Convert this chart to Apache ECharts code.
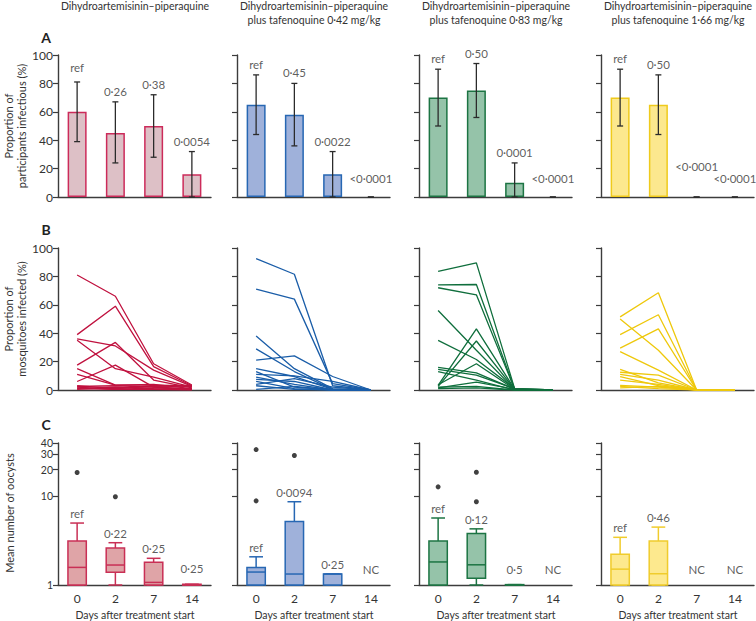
<!DOCTYPE html>
<html><head><meta charset="utf-8">
<script src="https://cdn.jsdelivr.net/npm/echarts@6/dist/echarts.min.js"></script>
<style>html,body{margin:0;padding:0;background:#fff}#c{width:756px;height:621px}</style>
</head><body><div id="c"></div>
<script>
// ---------- DATA ----------
const days = ['0', '2', '7', '14'];
const groupTitles = [
  ['Dihydroartemisinin–piperaquine'],
  ['Dihydroartemisinin–piperaquine', 'plus tafenoquine 0·42 mg/kg'],
  ['Dihydroartemisinin–piperaquine', 'plus tafenoquine 0·83 mg/kg'],
  ['Dihydroartemisinin–piperaquine', 'plus tafenoquine 1·66 mg/kg']
];
// Panel A: proportion of participants infectious (%)
const infectiousDHA   = [60, 45, 50, 16];
const infectiousTQ042 = [65, 58, 16, 0];
const infectiousTQ083 = [70, 75, 10, 0];
const infectiousTQ166 = [70, 65, 0, 0];
const ciLowA  = [[39, 24, 28, 0], [44, 36, 0, 0], [50, 56, 0, 0], [50, 44, 0, 0]];
const ciHighA = [[81, 67, 72, 32], [86, 80, 32, 0], [90, 94, 24, 0], [90, 86, 0, 0]];
const pValuesA = [
  ['ref', '0·26', '0·38', '0·0054'],
  ['ref', '0·45', '0·0022', '<0·0001'],
  ['ref', '0·50', '0·0001', '<0·0001'],
  ['ref', '0·50', '<0·0001', '<0·0001']
];
// Panel B: proportion of mosquitoes infected (%), one row per participant (day 0, 2, 7, 14)
const mosqDHA = [
  [81, 66, 18.5, 3.5], [39, 59, 16.5, 3], [36, 31, 14, 2.5], [35, 15, 9, 2],
  [17.5, 33.5, 7, 1.5], [15, 3.5, 3.5, 3], [11, 3.5, 4, 1], [6, 17.5, 2, 0.5],
  [3, 1, 3, 2.5], [2.5, 3, 2, 1], [2, 0.5, 1.5, 0.5], [1.5, 1, 2.5, 3],
  [1, 0.5, 0.5, 0], [0.5, 2, 1, 0.5]
];
const mosqTQ042 = [
  [92.5, 81.5, 3, 0], [71, 64, 4.5, 0], [38, 15, 1, 0], [29, 13, 0.5, 0],
  [21, 24, 9.5, 0], [15, 9.5, 0.5, 0], [13, 2, 0, 0], [11, 10, 6, 0],
  [9, 4, 0, 0], [7.5, 6, 0, 0], [6, 1, 0, 0], [4, 8, 2, 0],
  [0.5, 2.5, 0, 0], [3, 0.5, 0, 0]
];
const mosqTQ083 = [
  [83.5, 89.5, 1, 0], [74, 74.3, 0.5, 0], [72, 67, 0.5, 0], [56, 28, 0.5, 0],
  [35, 21.5, 1, 0], [3.3, 43, 0.5, 0], [2.6, 34.5, 0.5, 0], [16, 12, 0.5, 0],
  [14.5, 10.5, 1, 0], [3.7, 18.5, 0.5, 0], [13, 7, 0, 0], [1.5, 5.5, 0.5, 0],
  [2, 2.5, 0, 0], [1, 1.5, 0, 0]
];
const mosqTQ166 = [
  [51.5, 68.5, 0, 0], [50, 28, 0, 0], [39, 53, 0, 0], [29.5, 43, 0, 0],
  [27, 14, 0, 0], [14.5, 5, 0, 0], [12.5, 10.5, 0, 0], [11, 7, 0, 0],
  [9.5, 3, 0, 0], [7, 4, 0, 0], [3.3, 2, 0, 0], [2.5, 1, 0, 0], [1.5, 2.5, 0, 0]
];
// Panel C: mean number of oocysts, box stats [min, Q1, median, Q3, max]; null = not calculable
const oocystDHA   = [[1, 1, 1.58, 3.13, 5.0], [1, 1.39, 1.68, 2.61, 3.0], [1, 1, 1.07, 1.8, 2.0], [1, 1, 1, 1.02, 1.02]];
const oocystTQ042 = [[1, 1, 1.4, 1.58, 2.08], [1, 1, 1.33, 5.2, 8.7], [1, 1, 1.33, 1.33, 1.33], null];
const oocystTQ083 = [[1, 1, 1.82, 3.13, 5.7], [1, 1.19, 1.69, 3.82, 4.3], [1, 1, 1, 1.01, 1.01], null];
const oocystTQ166 = [[1, 1, 1.51, 2.22, 3.45], [1, 1, 1.34, 3.13, 4.5], null, null];
const outliersC = [
  [[0, 18.6], [1, 9.9]],
  [[0, 33.7], [0, 8.9], [1, 28.9]],
  [[0, 12.8], [1, 18.7], [1, 8.7]],
  []
];
const pValuesC = [
  ['ref', '0·22', '0·25', '0·25'],
  ['ref', '0·0094', '0·25', 'NC'],
  ['ref', '0·12', '0·5', 'NC'],
  ['ref', '0·46', 'NC', 'NC']
];
const oocystTicks = [1, 10, 20, 30, 40];

// ---------- STYLE / LAYOUT ----------
const infectious = [infectiousDHA, infectiousTQ042, infectiousTQ083, infectiousTQ166];
const mosq = [mosqDHA, mosqTQ042, mosqTQ083, mosqTQ166];
const oocyst = [oocystDHA, oocystTQ042, oocystTQ083, oocystTQ166];
const FONT = 'Lato, "Open Sans", sans-serif';
const TXT = '#333';
const AX = '#3c3c3c';
const barFill = ['#ddc0c6', '#9fb1da', '#95c3a9', '#fce88e'];
const barBorder = ['#cc2b5a', '#2767b3', '#1c7443', '#efca1c'];
const lineCol = ['#c0123f', '#1a5da8', '#0f6e3c', '#eec80c'];
const boxFill = ['#dfa4a7', '#9fb1da', '#95c3a9', '#fde98e'];
const boxBorder = ['#c92f55', '#2767b3', '#1c7443', '#f0cc2c'];
const colX = [58, 237, 419, 601];
const rowTop = [55, 248, 443];
const W = 153, H = 142;
const LOG_MAX = 40.001;
const lblBase = {fontFamily: FONT, fontSize: 12, color: TXT, margin: 5};
const lblLog = {fontFamily: FONT, fontSize: 10.5, lineHeight: 10, color: TXT, margin: 5};

const grids = [], xAxes = [], yAxes = [], series = [];
for (let r = 0; r < 3; r++) {
  for (let c = 0; c < 4; c++) {
    const i = r * 4 + c;
    grids.push({left: colX[c], top: rowTop[r], width: W, height: H});
    xAxes.push({
      gridIndex: i, type: 'category', data: days, boundaryGap: true,
      axisLine: {lineStyle: {color: AX, width: 1.4}},
      axisTick: {alignWithLabel: true, length: 5, lineStyle: {color: AX, width: 1.2}},
      axisLabel: {show: r === 2, fontFamily: FONT, fontSize: 12, color: TXT, margin: 7},
      splitLine: {show: false}
    });
    if (r < 2) {
      yAxes.push({
        gridIndex: i, type: 'value', min: 0, max: 100, interval: 20,
        axisLine: {show: true, lineStyle: {color: AX, width: 1.4}},
        axisTick: {show: true, length: 5, lineStyle: {color: AX, width: 1.2}},
        axisLabel: Object.assign({show: c === 0, showMinLabel: true, showMaxLabel: true}, lblBase),
        splitLine: {show: false}
      });
    } else {
      yAxes.push({
        gridIndex: i, type: 'log', logBase: 10, min: 1, max: LOG_MAX, position: 'left',
        axisLine: {show: true, lineStyle: {color: AX, width: 1.4}},
        axisTick: {show: true, length: 5, customValues: oocystTicks, lineStyle: {color: AX, width: 1.2}},
        axisLabel: Object.assign({show: c === 0, customValues: oocystTicks.slice(0, 4),
          showMinLabel: true, showMaxLabel: true}, lblLog),
        minorTick: {show: false}, splitLine: {show: false}
      });
    }
  }
}
// overlay axis carrying the top label of the oocyst scale (avoids auto-hiding of the crowded 30/40 pair)
yAxes.push({
  gridIndex: 8, type: 'log', logBase: 10, min: 1, max: LOG_MAX, position: 'left', offset: 0,
  axisLine: {show: false}, axisTick: {show: false},
  axisLabel: Object.assign({show: true, customValues: oocystTicks.slice(4), showMinLabel: true, showMaxLabel: true,
    padding: [0, 0, 5, 0]}, lblLog),
  minorTick: {show: false}, splitLine: {show: false}
});

function labelSeries(idx, items) {
  return {
    type: 'scatter', xAxisIndex: idx, yAxisIndex: idx, symbolSize: 1, silent: true,
    itemStyle: {color: 'rgba(0,0,0,0)'}, z: 10,
    data: items.map(it => ({
      value: [it.x, it.y],
      label: {show: true, position: 'top', distance: it.d, formatter: it.text,
        fontFamily: FONT, fontSize: 11.5, color: TXT}
    }))
  };
}

// Panel A
for (let c = 0; c < 4; c++) {
  const idx = c;
  series.push({
    type: 'bar', xAxisIndex: idx, yAxisIndex: idx, barWidth: 19,
    data: infectious[c].map(v => ({value: v, itemStyle: {borderWidth: v === 0 ? 0 : 1.5}})),
    itemStyle: {color: barFill[c], borderColor: barBorder[c], borderWidth: 1.5}
  });
  series.push({
    type: 'custom', xAxisIndex: idx, yAxisIndex: idx, clip: false, z: 5,
    data: days.map((d, k) => [k, ciLowA[c][k], ciHighA[c][k]]),
    encode: {x: 0, y: [1, 2]},
    renderItem: function (params, api) {
      const x = api.value(0);
      const pl = api.coord([x, api.value(1)]);
      const ph = api.coord([x, api.value(2)]);
      const hw = 3;
      const st = {stroke: '#2b2b2b', lineWidth: 1.3};
      return {type: 'group', children: [
        {type: 'line', shape: {x1: pl[0], y1: pl[1], x2: ph[0], y2: ph[1]}, style: st},
        {type: 'line', shape: {x1: pl[0] - hw, y1: pl[1], x2: pl[0] + hw, y2: pl[1]}, style: st},
        {type: 'line', shape: {x1: ph[0] - hw, y1: ph[1], x2: ph[0] + hw, y2: ph[1]}, style: st}
      ]};
    }
  });
  series.push(labelSeries(idx, pValuesA[c].map((t, k) => {
    const hi = ciHighA[c][k];
    let d = hi === 0 ? 12 : 4;
    if (c === 0 && k === 0) d = 8;
    if (c === 3 && k === 2) d = 24; // staggered label
    return {x: k, y: hi, d: d, text: t};
  })));
}

// Panel B
for (let c = 0; c < 4; c++) {
  const idx = 4 + c;
  mosq[c].forEach(row => {
    series.push({
      type: 'line', xAxisIndex: idx, yAxisIndex: idx, data: row, symbol: 'none',
      lineStyle: {color: lineCol[c], width: 1.3}, silent: true
    });
  });
}

// Panel C
for (let c = 0; c < 4; c++) {
  const idx = 8 + c;
  const data = [];
  oocyst[c].forEach((s, k) => { if (s) data.push([k].concat(s)); });
  series.push({
    type: 'custom', xAxisIndex: idx, yAxisIndex: idx, clip: false,
    data: data, encode: {x: 0, y: [1, 2, 3, 4, 5]},
    renderItem: function (params, api) {
      const x = api.value(0);
      const band = api.coord([1, 1])[0] - api.coord([0, 1])[0];
      const bw = band * 0.48, cw = band * 0.36;
      const p = [1, 2, 3, 4, 5].map(j => api.coord([x, api.value(j)]));
      const cx = p[0][0];
      const st = {stroke: boxBorder[c], lineWidth: 1.5};
      return {type: 'group', children: [
        {type: 'line', shape: {x1: cx, y1: p[3][1], x2: cx, y2: p[4][1]}, style: st},
        {type: 'line', shape: {x1: cx - cw / 2, y1: p[4][1], x2: cx + cw / 2, y2: p[4][1]}, style: st},
        {type: 'line', shape: {x1: cx, y1: p[1][1], x2: cx, y2: p[0][1]}, style: st},
        {type: 'line', shape: {x1: cx - cw / 2, y1: p[0][1], x2: cx + cw / 2, y2: p[0][1]}, style: st},
        {type: 'rect', shape: {x: cx - bw / 2, y: p[3][1], width: bw, height: p[1][1] - p[3][1]},
          style: {fill: boxFill[c], stroke: boxBorder[c], lineWidth: 1.5}},
        {type: 'line', shape: {x1: cx - bw / 2, y1: p[2][1], x2: cx + bw / 2, y2: p[2][1]}, style: st}
      ]};
    }
  });
  series.push({
    type: 'scatter', xAxisIndex: idx, yAxisIndex: idx, symbolSize: 5,
    itemStyle: {color: '#111'}, data: outliersC[c]
  });
  series.push(labelSeries(idx, pValuesC[c].map((t, k) => {
    const s = oocyst[c][k];
    const top = s ? s[4] : 1;
    const d = (top <= 1.05) ? 9 : 3;
    return {x: k, y: top, d: d, text: t};
  })));
}

// Text graphics
const graphics = [];
const txt = (x, y, text, extra) => Object.assign({
  type: 'text', x: x, y: y,
  style: Object.assign({text: text, fontFamily: FONT, fontSize: 10.5, fill: TXT, align: 'center', verticalAlign: 'middle'}, (extra && extra.style) || {})
}, extra && extra.rotation !== undefined ? {rotation: extra.rotation} : {});
groupTitles.forEach((lines, c) => {
  lines.forEach((l, j) => graphics.push(txt(colX[c] + 77, 6 + j * 14, l)));
  graphics.push(txt(colX[c] + 77, 615, 'Days after treatment start', {style: {fontSize: 10.5}}));
});
[['A', 37], ['B', 229], ['C', 424]].forEach(([t, y]) =>
  graphics.push(txt(46, y, t, {style: {fontWeight: 'bold', fontSize: 14, fill: '#222'}})));
const rot = Math.PI / 2;
const yn = {rotation: rot, style: {fontSize: 11}};
graphics.push(txt(8, 126, 'Proportion of', yn));
graphics.push(txt(21, 126, 'participants infectious (%)', yn));
graphics.push(txt(8, 319, 'Proportion of', yn));
graphics.push(txt(21, 319, 'mosquitoes infected (%)', yn));
graphics.push(txt(9, 513, 'Mean number of oocysts', yn));

const chart = echarts.init(document.getElementById('c'), null, {renderer: 'svg', width: 756, height: 621});
chart.setOption({
  animation: false,
  backgroundColor: '#fff',
  grid: grids, xAxis: xAxes, yAxis: yAxes, series: series,
  graphic: graphics
});
</script>
</body></html>
